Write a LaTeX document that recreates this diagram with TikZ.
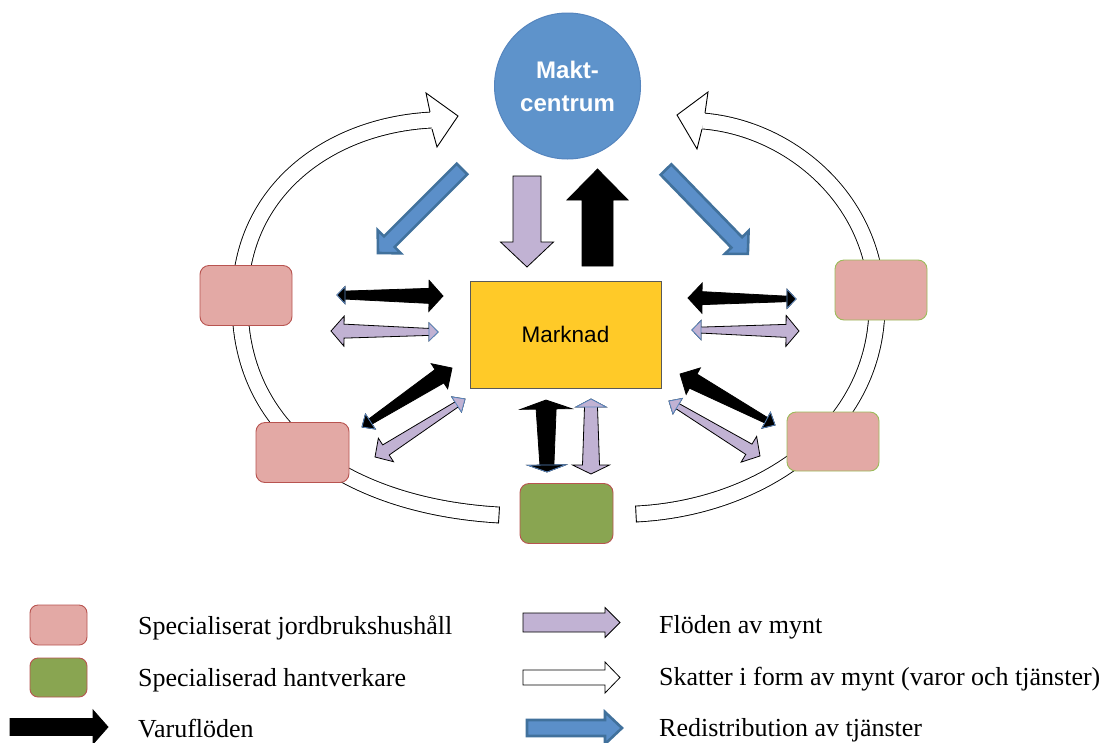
\documentclass[tikz,border=0pt]{standalone}
\usepackage{fontspec}
\setmainfont{Liberation Serif}
\newfontfamily\sansf{Liberation Sans}
\definecolor{pinkc}{HTML}{E3A9A5}
\definecolor{redb}{HTML}{B85450}
\definecolor{greenb}{HTML}{9BBB59}
\definecolor{greenc}{HTML}{89A551}
\definecolor{yel}{HTML}{FFCA28}
\definecolor{circc}{HTML}{5E93CB}
\definecolor{circb}{HTML}{5585BE}
\definecolor{purc}{HTML}{C1B2D3}
\definecolor{bluec}{HTML}{5B8FC9}
\definecolor{blueb}{HTML}{41719C}
\definecolor{smallb}{HTML}{5A87BF}
\newcommand\setpts[4]{\def\xa{#1}\def\ya{#2}%
  \pgfmathsetmacro\ang{atan2((#2)-(#4),(#3)-(#1))}%
  \pgfmathsetmacro\len{veclen((#3)-(#1),(#4)-(#2))}}
% single arrow: style, shaft half at tail, shaft half at head, head length, head half width
\newcommand\sarrow[5]{%
  \begin{scope}[shift={(\xa,\ya)},rotate=\ang]
  \filldraw[#1] (0,#2) -- (\len-#4,#3) -- (\len-#4,#5) -- (\len,0) -- (\len-#4,-#5) -- (\len-#4,-#3) -- (0,-#2) -- cycle;
  \end{scope}}
% double arrow: style, small-head style, small hl, small hw, shaft half small end, shaft half big end, big hl, big hw
\newcommand\darrow[8]{%
  \begin{scope}[shift={(\xa,\ya)},rotate=\ang]
  \filldraw[#1] (0,0) -- (#3,#4) -- (#3,#5) -- (\len-#7,#6) -- (\len-#7,#8) -- (\len,0) -- (\len-#7,-#8) -- (\len-#7,-#6) -- (#3,-#5) -- (#3,-#4) -- cycle;
  \filldraw[#2] (0,0) -- (#3,#4) -- (#3,-#4) -- cycle;
  \end{scope}}
\begin{document}
\begin{tikzpicture}[x=1pt,y=-1pt,
  band/.style={draw=black, line width=0.9pt, double=white, double distance=15pt},
  bandhead/.style={fill=white, draw=black, line width=0.9pt, line join=miter},
  pinkbox/.style={rounded corners=9pt, fill=pinkc, line width=0.9pt, minimum width=92, minimum height=60},
  greenbox/.style={rounded corners=9pt, fill=greenc, draw=redb, line width=0.9pt, minimum width=92, minimum height=60},
  blk/.style={fill=black, draw=black, line width=0.8pt, line join=miter},
  pur/.style={fill=purc, draw=black, line width=0.8pt, line join=miter},
  wht/.style={fill=white, draw=black, line width=0.8pt, line join=miter},
  blu/.style={fill=bluec, draw=blueb, line width=2.6pt, line join=miter},
  smblk/.style={fill=black, draw=smallb, line width=0.8pt, line join=miter},
  smpur/.style={fill=purc, draw=smallb, line width=0.8pt, line join=miter},
  legtext/.style={anchor=base west, inner sep=0pt, font=\fontsize{26}{31}\selectfont}]
\useasboundingbox (0,0) rectangle (1110,742);
\fill[white] (0,0) rectangle (1110,742);

% ring of tax arrows
\draw[band] (499,515) .. controls (360,507) and (238,440) .. (240,300)
  .. controls (240,190) and (330,125) .. (432,120);
\draw[line width=0.9pt] (499.5,506.6) -- (498.5,523.4);
\filldraw[bandhead] (430,112) -- (426,93) -- (458,116) -- (437,147) -- (432,129);
\draw[band] (636,514) .. controls (760,508) and (877,430) .. (877,305)
  .. controls (877,200) and (790,128) .. (703,121);
\draw[line width=0.9pt] (635.6,505.6) -- (636.4,522.4);
\filldraw[bandhead] (705,113) -- (708,92) -- (677,115) -- (697,149) -- (702,129);

% households
\node[pinkbox, draw=redb] (L1) at (246,295.5) {};
\node[pinkbox, draw=redb, minimum width=93] (L2) at (302.5,452.5) {};
\node[pinkbox, draw=greenb] (R1) at (881,290) {};
\node[pinkbox, draw=greenb, minimum height=59] (R2) at (833,441.5) {};
\node[greenbox, minimum width=93] (G) at (566.5,513.5) {};

% centres
\node[circle, fill=circc, draw=circb, line width=1pt, minimum size=146, inner sep=0pt,
  text=white, align=center, font=\sansf\bfseries\fontsize{24}{33}\selectfont] (M) at (567.5,86) {Makt-\\centrum};
\node[rectangle, fill=yel, draw=black!65, line width=1pt, minimum width=191, minimum height=107,
  font=\sansf\fontsize{22.5}{27}\selectfont] (K) at (565.5,334.5) {Marknad};

% flows between Maktcentrum and Marknad
\setpts{527}{176}{527}{267}\sarrow{pur}{14}{14}{25}{26.5}
\setpts{597.5}{266}{597.5}{169}\sarrow{blk}{15.5}{15.5}{31}{30.5}
% redistribution
\setpts{462}{169}{378}{253}\sarrow{blu}{7.5}{7.5}{16}{16.5}
\setpts{666}{169.5}{748}{254}\sarrow{blu}{7.5}{7.5}{16}{16.5}

% flows between households and Marknad
\setpts{337}{295}{443}{296}\darrow{blk}{smblk}{8}{8.5}{4}{7.5}{14}{15.5}
\setpts{438}{332}{331}{331}\darrow{pur}{smpur}{9}{9}{3.5}{7}{13}{15}
\setpts{796}{299}{688}{298}\darrow{blk}{smblk}{9}{9.5}{2.75}{6.5}{14}{15}
\setpts{692}{330}{799}{331}\darrow{pur}{smpur}{9}{9.5}{3}{6.5}{13}{15.5}
\setpts{362}{427}{452}{368}\darrow{blk}{smblk}{10}{9}{3}{8}{15}{15}
\setpts{465}{399}{375}{457}\darrow{pur}{smpur}{10}{9}{3}{6}{13}{14}
\setpts{775}{425}{680}{374}\darrow{blk}{smblk}{10}{9}{3}{8}{15}{15}
\setpts{669}{401}{760}{456}\darrow{pur}{smpur}{10}{9}{3}{6}{13}{15}
\setpts{547}{472}{546}{400}\darrow{blk}{smblk}{7}{19}{7}{10}{9}{25.5}
\setpts{591}{399}{591}{474}\darrow{pur}{smpur}{8}{15}{6.5}{8.5}{9}{18.5}

% legend
\node[rounded corners=8pt, fill=pinkc, draw=redb, line width=0.9pt, minimum width=57, minimum height=40] (lp) at (58.5,625) {};
\node[rounded corners=8pt, fill=greenc, draw=redb, line width=0.9pt, minimum width=57, minimum height=39] (lg) at (58.5,677.5) {};
\setpts{10}{727}{108}{727}\sarrow{blk}{8.5}{8.5}{15}{17}
\setpts{523}{622.5}{620}{622.5}\sarrow{pur}{9.5}{9.5}{15}{15}
\setpts{523}{677.5}{620}{677.5}\sarrow{wht}{7.5}{7.5}{15}{15.5}
\setpts{527}{728}{622}{728}\sarrow{blu}{8}{8}{17}{16}
\node[legtext] (t1) at (138,634) {Specialiserat jordbrukshushåll};
\node[legtext] (t2) at (138,686) {Specialiserad hantverkare};
\node[legtext] (t3) at (138,737) {Varuflöden};
\node[legtext] (t4) at (659,633) {Flöden av mynt};
\node[legtext] (t5) at (659,685) {Skatter i form av mynt (varor och tjänster)};
\node[legtext] (t6) at (659,736) {Redistribution av tjänster};
\end{tikzpicture}
\end{document}
